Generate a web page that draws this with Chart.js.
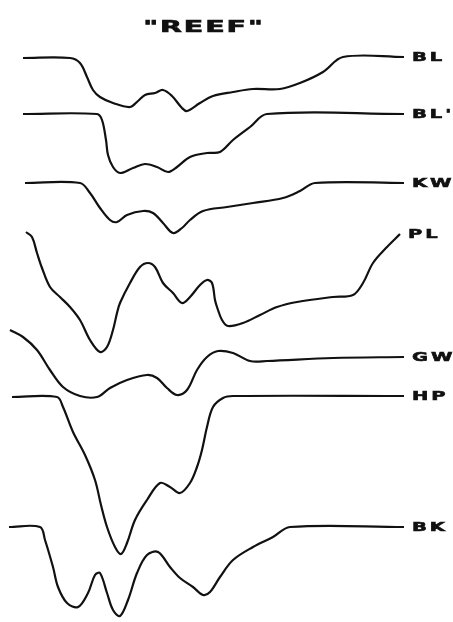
<!DOCTYPE html>
<html>
<head>
<meta charset="utf-8">
<script src="https://cdn.jsdelivr.net/npm/chart.js@4.4.1/dist/chart.umd.min.js"></script>
<style>
  html, body { margin: 0; padding: 0; background: #fff; }
  canvas { display: block; }
</style>
</head>
<body>
<canvas id="reefChart" width="453" height="622"></canvas>
<script>
// Trace names, in order from top to bottom
const seriesNames = ['BL', "BL'", 'KW', 'PL', 'GW', 'HP', 'BK'];
const chartTitle = '"REEF"';

// Each trace: [x, y] (x across, y downwards)
const blPoints = [
    [23, 58], [70, 58], [80, 63], [87, 77], [93, 90], [100, 97], [113, 103],
    [130, 107], [138, 101], [145, 95], [155, 93], [163, 90], [172, 96],
    [182, 108], [187, 111], [200, 103], [213, 96], [233, 92], [253, 89],
    [280, 89], [300, 83], [323, 72], [343, 57], [404, 57]
];
const blPrimePoints = [
    [23, 114], [97, 114], [102, 120], [106, 140], [108, 155], [113, 167],
    [120, 173], [133, 168], [145, 164], [157, 167], [168, 172], [177, 167],
    [190, 157], [207, 153], [220, 152], [233, 140], [250, 127], [267, 114],
    [404, 114]
];
const kwPoints = [
    [25, 183], [80, 183], [90, 193], [100, 208], [110, 220], [117, 222],
    [127, 215], [143, 211], [153, 213], [163, 223], [173, 233], [182, 228],
    [190, 220], [203, 211], [227, 207], [253, 203], [283, 198], [300, 191],
    [315, 183], [404, 183]
];
const plPoints = [
    [26, 232], [32, 237], [37, 253], [42, 268], [50, 287], [60, 297],
    [70, 307], [80, 320], [90, 340], [100, 352], [107, 347], [113, 330],
    [117, 313], [120, 303], [130, 283], [140, 267], [148, 263], [155, 267],
    [163, 283], [173, 293], [182, 303], [190, 297], [200, 285], [207, 280],
    [212, 283], [215, 300], [217, 307], [222, 320], [228, 326], [243, 323],
    [260, 315], [277, 307], [297, 302], [333, 297], [353, 295], [363, 283],
    [373, 263], [387, 247], [400, 234]
];
const gwPoints = [
    [10, 330], [23, 337], [37, 350], [50, 370], [63, 387], [80, 396],
    [97, 397], [110, 388], [127, 380], [147, 375], [157, 378], [167, 388],
    [177, 395], [187, 390], [197, 370], [207, 357], [218, 351], [233, 353],
    [250, 361], [267, 361], [333, 358], [404, 357]
];
const hpPoints = [
    [12, 397], [57, 397], [63, 407], [73, 432], [85, 455], [95, 480],
    [101, 505], [107, 527], [115, 547], [121, 554], [127, 543],
    [135, 520], [147, 500], [160, 483], [170, 487], [180, 493], [190, 483],
    [197, 467], [202, 450], [207, 427], [213, 407], [223, 398], [233, 396],
    [404, 396]
];
const bkPoints = [
    [9, 527], [40, 527], [45, 540], [53, 567], [58, 587], [67, 603],
    [78, 607], [88, 593], [95, 575], [100, 573], [107, 593], [113, 610],
    [120, 616], [128, 600], [137, 573], [147, 555], [158, 552], [170, 567],
    [180, 578], [193, 587], [203, 595], [210, 592], [220, 577], [233, 560],
    [253, 547], [273, 537], [290, 527], [404, 527]
];
const seriesPoints = [blPoints, blPrimePoints, kwPoints, plPoints, gwPoints, hpPoints, bkPoints];

// wide blocky lettering like the stencil on the original
function drawWide(ctx, text, x, y, size, stretch, spacing, align) {
    ctx.save();
    ctx.font = 'bold ' + size + 'px "DejaVu Sans"';
    if ('letterSpacing' in ctx) ctx.letterSpacing = spacing + 'px';
    const w = ctx.measureText(text).width * stretch;
    const left = align === 'center' ? x - w / 2 : x;
    ctx.translate(left, y);
    ctx.scale(stretch, 1);
    ctx.textAlign = 'left';
    ctx.textBaseline = 'middle';
    ctx.fillText(text, 0, 0);
    ctx.lineWidth = 0.6;
    ctx.strokeText(text, 0, 0);
    ctx.restore();
}

// Writes the trace names at the right end of each line and the title on top
const traceLabels = {
    id: 'traceLabels',
    afterDatasetsDraw(chart) {
        const ctx = chart.ctx;
        const xs = chart.scales.x;
        const ys = chart.scales.y;
        ctx.save();
        ctx.fillStyle = '#111';
        ctx.strokeStyle = '#111';
        chart.data.datasets.forEach(ds => {
            const last = ds.data[ds.data.length - 1];
            drawWide(ctx, ds.label, xs.getPixelForValue(last.x) + 8,
                     ys.getPixelForValue(last.y) + 1, 13, 1.5, 2, 'left');
        });
        drawWide(ctx, chartTitle, xs.getPixelForValue(204), ys.getPixelForValue(28), 15, 1.9, 1, 'center');
        ctx.restore();
    }
};

new Chart(document.getElementById('reefChart'), {
    type: 'scatter',
    data: {
        datasets: seriesNames.map((name, i) => ({
            label: name,
            data: seriesPoints[i].map(p => ({ x: p[0], y: p[1] })),
            showLine: true,
            borderColor: '#111',
            borderWidth: 2.2,
            pointRadius: 0,
            tension: 0.35,
            fill: false
        }))
    },
    options: {
        responsive: false,
        animation: false,
        layout: { padding: 0 },
        plugins: {
            legend: { display: false },
            tooltip: { enabled: false }
        },
        scales: {
            x: { type: 'linear', min: 0, max: 453, display: false },
            y: { type: 'linear', min: 0, max: 622, reverse: true, display: false }
        }
    },
    plugins: [traceLabels]
});
</script>
</body>
</html>
